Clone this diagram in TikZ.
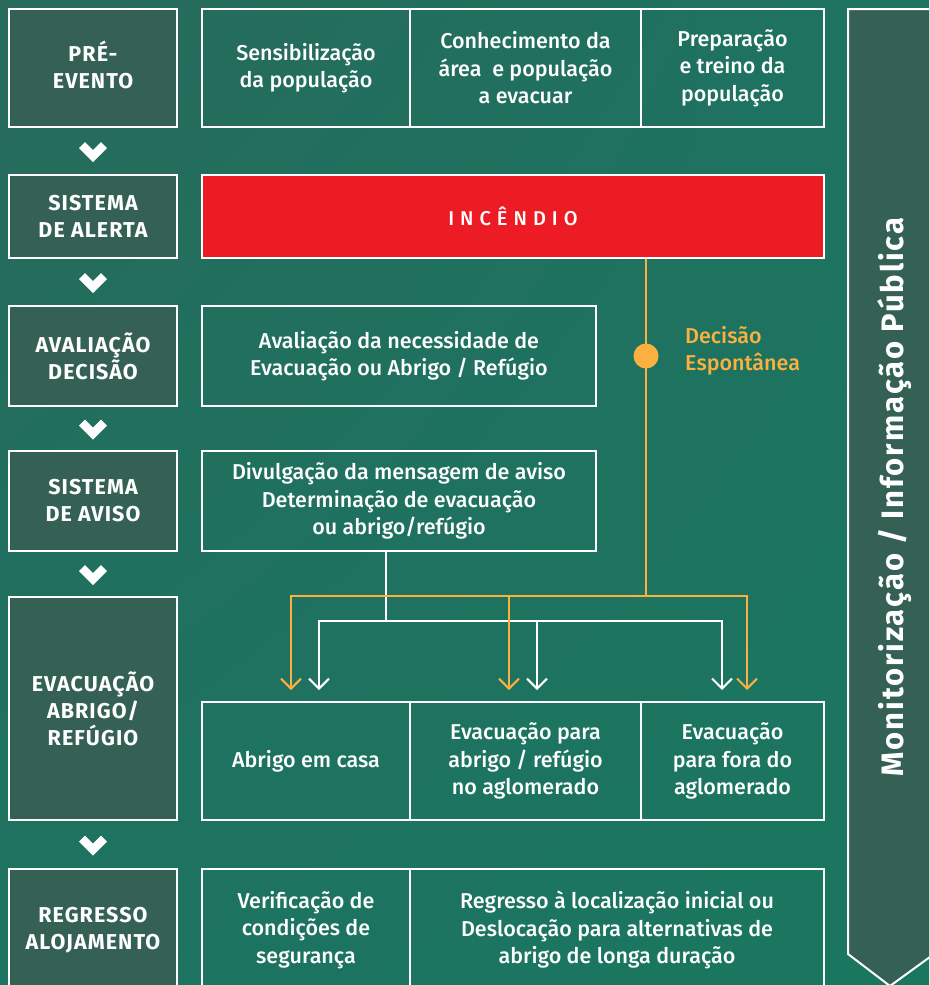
\documentclass[tikz,border=0pt]{standalone}
\usepackage{fontspec}
\setmainfont{Fira Sans}
\newfontfamily\medfont{Fira Sans Medium}
\usetikzlibrary{arrows.meta,calc,shadings}

\tikzset{
	stage/.style={draw=white,line width=2pt,fill=darkbox,text=white,align=center,inner sep=0pt,
		minimum width=168pt,font=\bfseries\fontsize{21.5}{27}\selectfont\addfontfeature{LetterSpace=5}},
	task/.style={draw=white,line width=2pt,text=white,align=center,inner sep=0pt,
		font=\medfont\fontsize{21.5}{27.5}\selectfont},
	wline/.style={draw=white,line width=2pt},
	oline/.style={draw=fireorange,line width=2pt},
	downarrow/.style={-{Straight Barb[length=10pt,width=20pt]}}
}

\begin{document}
\begin{tikzpicture}[x=1pt,y=-1pt]
			\definecolor{bgA}{HTML}{276A5B}
			\definecolor{bgB}{HTML}{1A775F}
			\definecolor{bgC}{HTML}{1D7361}
			\definecolor{darkbox}{HTML}{356155}
			\definecolor{firered}{HTML}{ED1C24}
			\definecolor{fireorange}{HTML}{FBB040}
			\def\chev#1#2{\fill[white] ($(#1.south)!.5!(#2.north)$) ++(-14,-3) -- ++(6,-6) -- ++(8,8)
				-- ++(8,-8) -- ++(6,6) -- ++(-14,14) -- cycle;}
			
			\useasboundingbox (0,0) rectangle (929,985);
			\clip (0,0) rectangle (929,985);
			\shade[upper left=bgA,upper right=bgC,lower left=bgC,lower right=bgB] (0,0) rectangle (929,985);
			
			\node[stage,minimum height=118pt] (pre) at (93,68) {\raisebox{0pt}[0.7em]{PRÉ-}\\EVENTO};
			\node[stage,minimum height=83pt] (alerta) at (93,216.5) {SISTEMA\\DE ALERTA};
			\node[stage,minimum height=100pt] (decisao) at (93,356) {AVALIAÇÃO\\DECISÃO};
			\node[stage,minimum height=100pt] (aviso) at (93,501) {SISTEMA\\DE AVISO};
			\node[stage,minimum height=223pt] (evac) at (93,708.5) {EVACUAÇÃO\\ABRIGO/\\REFÚGIO};
			\node[stage,minimum height=122pt] (regresso) at (93,930) {REGRESSO\\ALOJAMENTO};
			
			\chev{pre}{alerta}
			\chev{alerta}{decisao}
			\chev{decisao}{aviso}
			\chev{aviso}{evac}
			\chev{evac}{regresso}
			
			\node[task,minimum width=208pt,minimum height=118pt] (sens) at (306,68) {Sensibilização\\da população};
			\node[task,minimum width=231pt,minimum height=118pt] (conhec) at (525.5,68) {Conhecimento da\\área\ \ e população\\a evacuar};
			\node[task,minimum width=183pt,minimum height=118pt] (prep) at (732.5,68) {Preparação\\e treino da\\população};
			
			\node[task,fill=firered,minimum width=622pt,minimum height=83pt] (inc) at (513,216.5)
			{\fontsize{20}{24}\selectfont\addfontfeature{LetterSpace=30}INCÊNDIO};
			
			\node[task,minimum width=394pt,minimum height=100pt] (aval) at (399,356)
			{Avaliação da necessidade de\\Evacuação ou Abrigo / Refúgio};
			\node[task,minimum width=394pt,minimum height=100pt] (divulg) at (399,501)
			{Divulgação da mensagem de aviso\\Determinação de evacuação\\ou abrigo/refúgio};
			
			\node[task,minimum width=208pt,minimum height=118pt] (casa) at (306,761) {Abrigo em casa};
			\node[task,minimum width=231pt,minimum height=118pt] (abrigo) at (525.5,761) {Evacuação para\\abrigo / refúgio\\no aglomerado};
			\node[task,minimum width=183pt,minimum height=118pt] (fora) at (732.5,761) {Evacuação\\para fora do\\aglomerado};
			
			\node[task,minimum width=208pt,minimum height=122pt] (verif) at (306,930) {Verificação de\\condições de\\segurança};
			\node[task,minimum width=414pt,minimum height=122pt] (regloc) at (617,930)
			{Regresso à localização inicial ou\\Deslocação para alternativas de\\abrigo de longa duração};
			
			\draw[draw=white,line width=2pt,fill=darkbox] (848,9) -- (934,9) -- (934,954) -- (890,986) -- (848,954) -- cycle;
			\node[rotate=90,anchor=base,text=white,font=\bfseries\fontsize{31}{31}\selectfont\addfontfeature{LetterSpace=6}] (banner) at (903,497)
			{Monitorização / Informação Pública};
			
			\coordinate (wjunc) at (386,621);
			\coordinate (ojunc) at (646,596);
			
			\draw[wline] (divulg.south -| wjunc) -- (wjunc);
			\draw[wline,downarrow] (wjunc) -| ([xshift=13pt,yshift=11pt]casa.north);
			\draw[wline,downarrow] (wjunc -| abrigo.north) ++(11.5,0) -- ([xshift=11.5pt,yshift=11pt]abrigo.north);
			\draw[wline,downarrow] (wjunc) -| ([xshift=-10.5pt,yshift=11pt]fora.north);
			
			\draw[oline] (inc.south -| ojunc) -- (ojunc);
			\draw[oline,downarrow] (ojunc) -| ([xshift=-15pt,yshift=11pt]casa.north);
			\draw[oline,downarrow] (ojunc -| abrigo.north) ++(-16.5,0) -- ([xshift=-16.5pt,yshift=11pt]abrigo.north);
			\draw[oline,downarrow] (ojunc) -| ([xshift=14.5pt,yshift=11pt]fora.north);
			
			\node[circle,fill=fireorange,minimum size=25pt,inner sep=0pt] (dot) at (ojunc |- aval) {};
			\node[anchor=west,align=left,inner sep=0pt,text=fireorange,font=\medfont\fontsize{21.5}{27}\selectfont] (decis) at (685,351)
			{Decisão\\Espontânea};
		\end{tikzpicture}
\end{document}
